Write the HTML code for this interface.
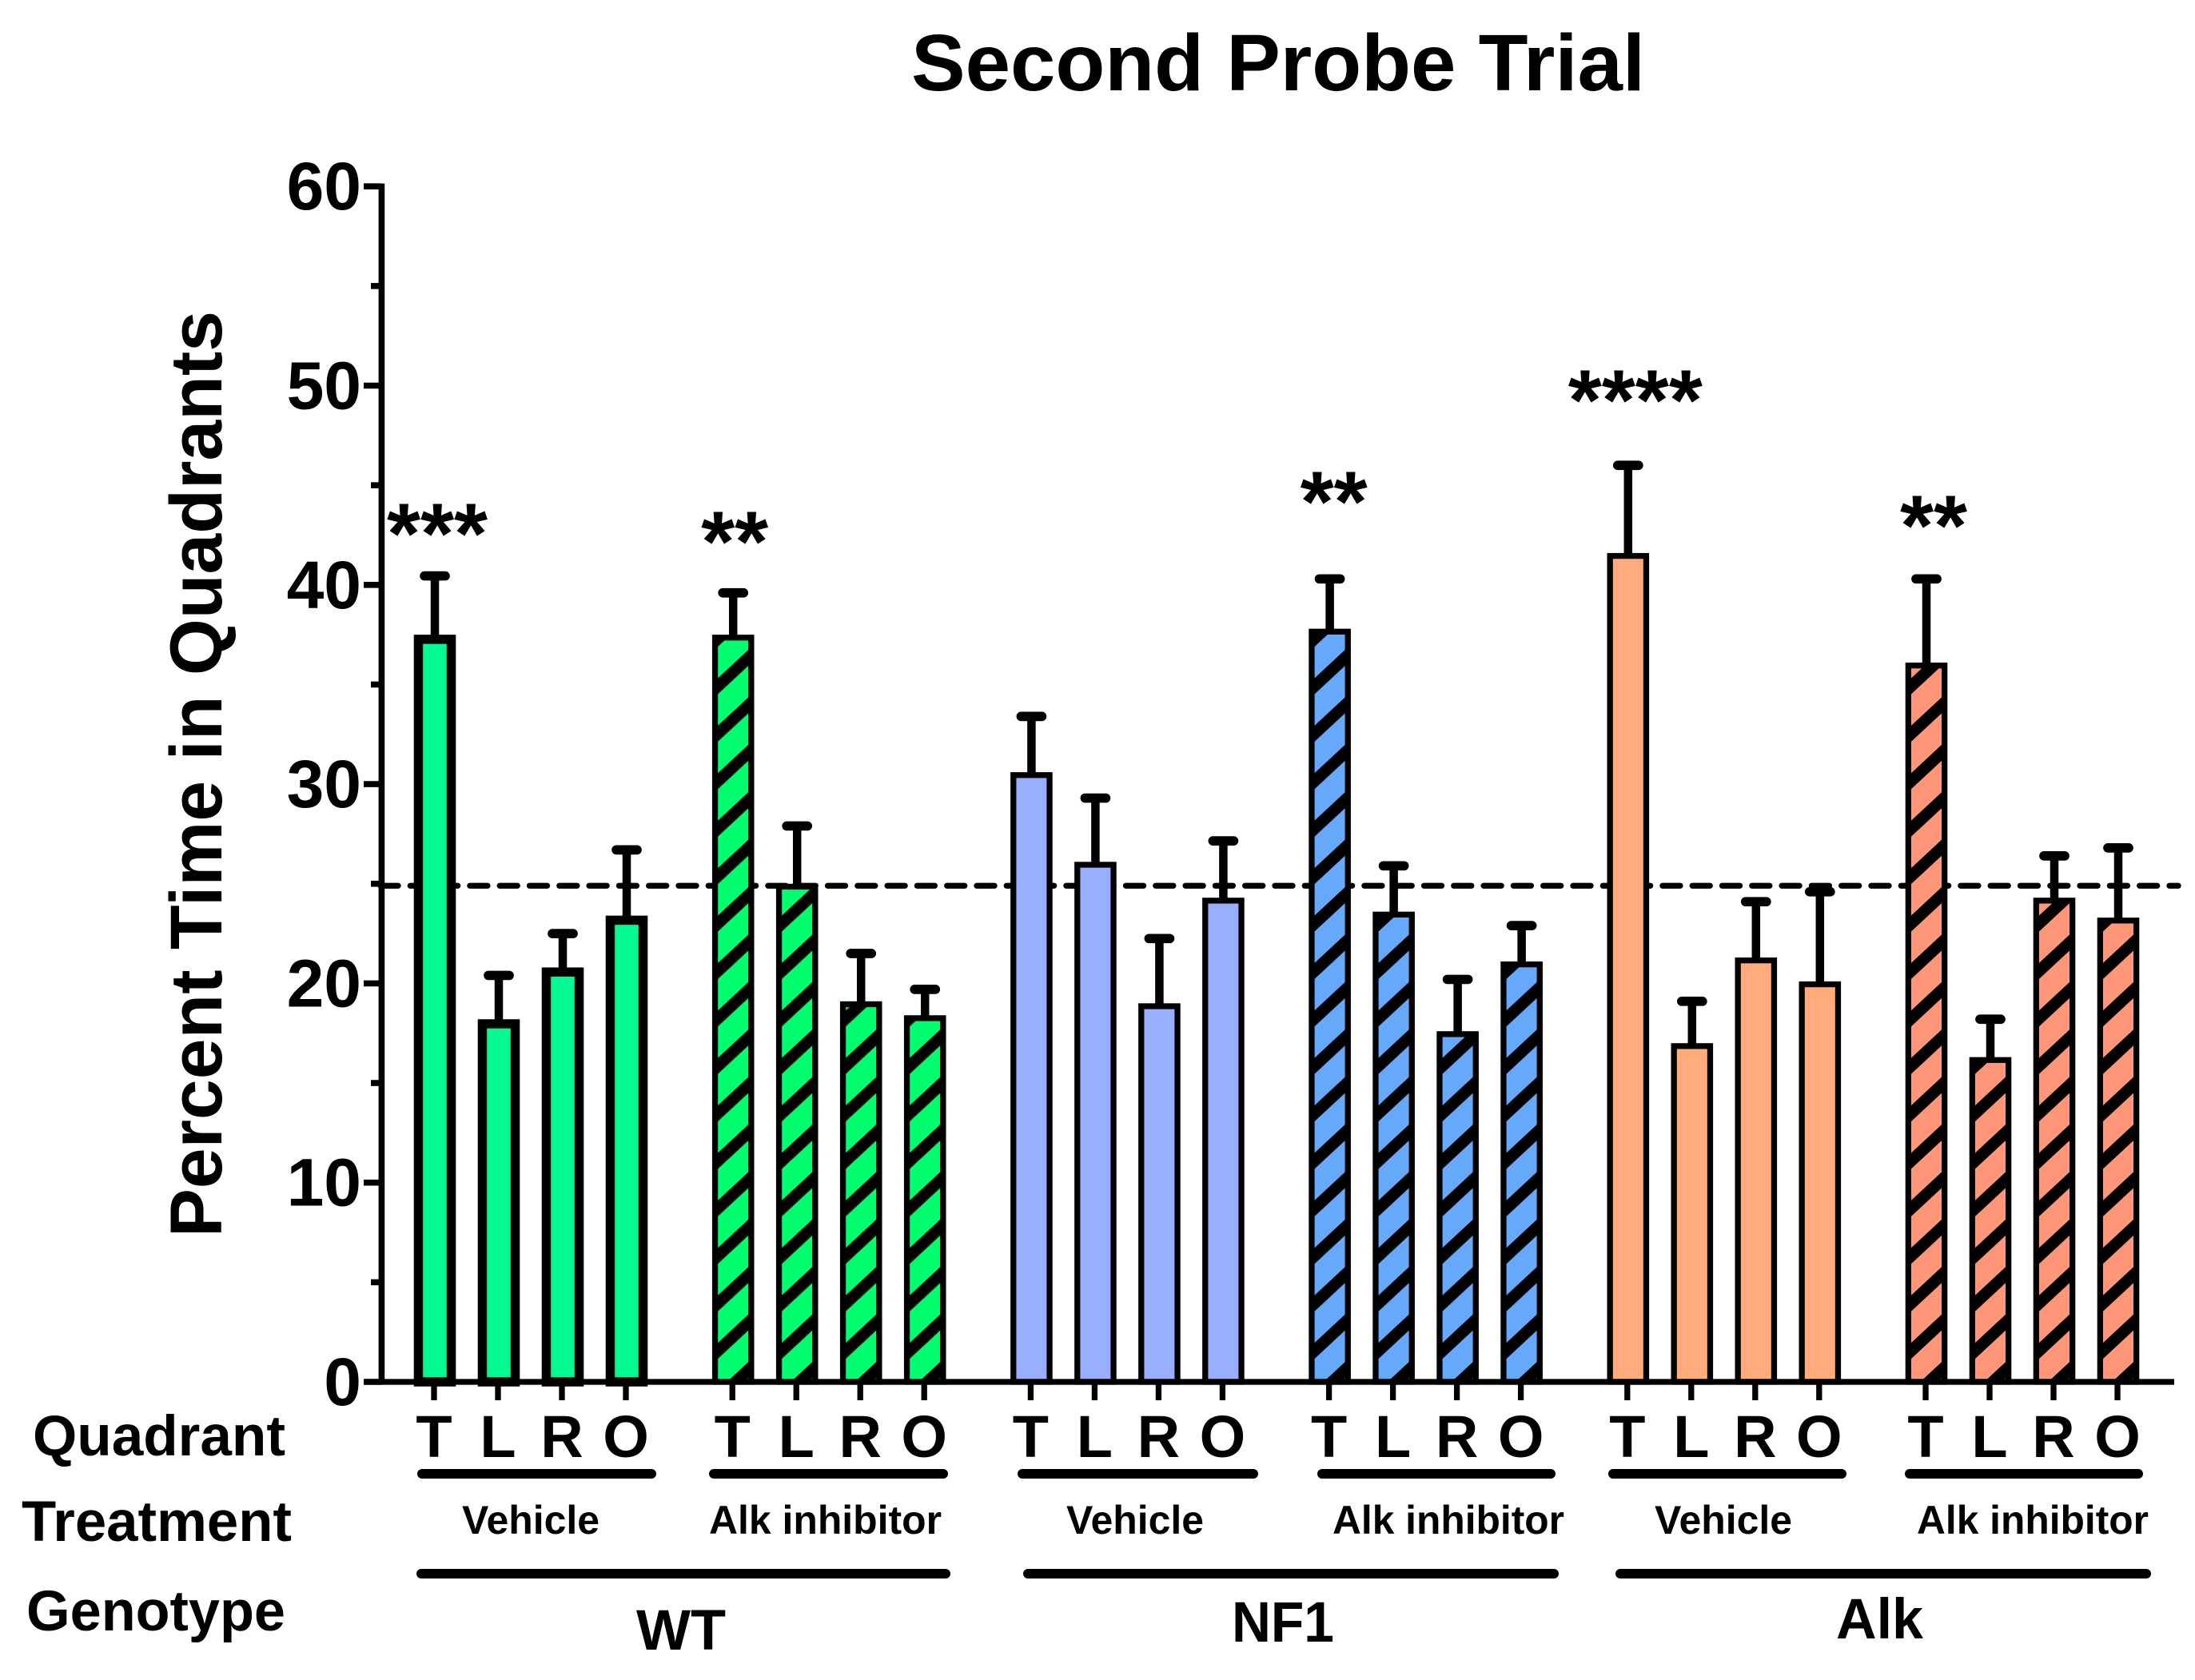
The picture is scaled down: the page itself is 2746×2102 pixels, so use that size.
<!DOCTYPE html>
<html lang="en">
<head>
<meta charset="utf-8">
<title>Second Probe Trial</title>
<style>
html,body{margin:0;padding:0;background:#fff;}
svg{display:block;}
text{font-family:"Liberation Sans",Arial,sans-serif;font-weight:bold;fill:#000;}
</style>
</head>
<body>
<svg id="chart" xmlns="http://www.w3.org/2000/svg" width="2746" height="2102" viewBox="0 0 2746 2102">
  <rect x="0" y="0" width="2746" height="2102" fill="#fff"/>
  <defs id="defs"></defs>
  <text x="1599" y="113" font-size="100" text-anchor="middle" textLength="918" lengthAdjust="spacingAndGlyphs">Second Probe Trial</text>
  <text transform="translate(277,1548) rotate(-90)" font-size="92" textLength="1159" lengthAdjust="spacingAndGlyphs">Percent Time in Quadrants</text>

  <text x="41" y="1821" font-size="71" textLength="316" lengthAdjust="spacingAndGlyphs">Quadrant</text>
  <text x="27" y="1928" font-size="71" textLength="338" lengthAdjust="spacingAndGlyphs">Treatment</text>
  <text x="33" y="2040" font-size="71" textLength="324" lengthAdjust="spacingAndGlyphs">Genotype</text>

  <g stroke="#000" stroke-width="12" stroke-linecap="round">
    <line x1="528" y1="1844" x2="815" y2="1844"/>
    <line x1="893" y1="1844" x2="1180" y2="1844"/>
    <line x1="1279" y1="1844" x2="1568" y2="1844"/>
    <line x1="1654" y1="1844" x2="1940" y2="1844"/>
    <line x1="2018" y1="1844" x2="2304" y2="1844"/>
    <line x1="2389" y1="1844" x2="2675" y2="1844"/>
  </g>
  <text x="578" y="1919" font-size="50" textLength="172" lengthAdjust="spacingAndGlyphs">Vehicle</text>
  <text x="887" y="1919" font-size="50" textLength="291" lengthAdjust="spacingAndGlyphs">Alk inhibitor</text>
  <text x="1334" y="1919" font-size="50" textLength="172" lengthAdjust="spacingAndGlyphs">Vehicle</text>
  <text x="1667" y="1919" font-size="50" textLength="290" lengthAdjust="spacingAndGlyphs">Alk inhibitor</text>
  <text x="2070" y="1919" font-size="50" textLength="172" lengthAdjust="spacingAndGlyphs">Vehicle</text>
  <text x="2398" y="1919" font-size="50" textLength="290" lengthAdjust="spacingAndGlyphs">Alk inhibitor</text>

  <g stroke="#000" stroke-width="12" stroke-linecap="round">
    <line x1="527" y1="1969" x2="1183" y2="1969"/>
    <line x1="1286" y1="1969" x2="1944" y2="1969"/>
    <line x1="2027" y1="1969" x2="2685" y2="1969"/>
  </g>
  <text x="796" y="2064" font-size="71" textLength="112" lengthAdjust="spacingAndGlyphs">WT</text>
  <text x="1541" y="2054" font-size="71" textLength="128" lengthAdjust="spacingAndGlyphs">NF1</text>
  <text x="2297" y="2050" font-size="71" textLength="109" lengthAdjust="spacingAndGlyphs">Alk</text>

  <g id="plot"></g>
</svg>
<script>
// ---- chart data ----
const quadrants = ['T','L','R','O'];
const meanValues = [
  37.5, 18.2, 20.8, 23.4,
  37.5, 25.0, 19.1, 18.4,
  30.6, 26.1, 19.0, 24.3,
  37.8, 23.6, 17.6, 21.1,
  41.6, 17.0, 21.3, 20.1,
  36.1, 16.3, 24.3, 23.3
];
const errorTops = [
  40.45, 20.4, 22.5, 26.7,
  39.6, 27.9, 21.5, 19.7,
  33.4, 29.3, 22.25, 27.15,
  40.3, 25.9, 20.2, 22.9,
  46.0, 19.1, 24.1, 24.6,
  40.3, 18.2, 26.4, 26.8
];
const groupNames = ['wt-vehicle','wt-inhibitor','nf1-vehicle','nf1-inhibitor','alk-vehicle','alk-inhibitor'];
const yTickLabels = [0,10,20,30,40,50,60];
const yMinorTicks = [5,15,25,35,45,55];
const chanceLevel = 24.9;
const sigLabels = ['***','**','**','****','**'];
const sigBars = [0,4,12,16,20];
const sigLevels = [41.1,40.7,42.7,47.8,41.5];

// ---- styling ----
const groupFills = ['#00fa92','#00ff6e','#99aeff','#66a8fa','#ffab7c','#ff9678'];
const groupStrokes = [11.5,7.3,7.3,7.3,7.3,7.3];
const sigNudge = [4,3,6,10,10];

// ---- axis functions ----
function yScale(v){ return 1729 - v * 24.93; }
function xScale(i){ return 543 + Math.floor(i/4) * 373.2 + (i%4) * 80; }

const NS = 'http://www.w3.org/2000/svg';
const plot = document.getElementById('plot');
const defs = document.getElementById('defs');
function make(tag, attrs, parent){
  const n = document.createElementNS(NS, tag);
  for (const k in attrs) n.setAttribute(k, attrs[k]);
  (parent || plot).appendChild(n);
  return n;
}

// hatch patterns for the inhibitor groups
groupNames.forEach(function(name, g){
  if (g % 2 === 0) return;
  const p = make('pattern', {id:'hatch-'+g, patternUnits:'userSpaceOnUse', width:63.9, height:59.4, patternTransform:'translate(3,0)'}, defs);
  make('rect', {x:0, y:0, width:63.9, height:59.4, fill:groupFills[g]}, p);
  make('path', {d:'M-31.95,29.7L31.95,-29.7M0,59.4L63.9,0M31.95,89.1L95.85,29.7', stroke:'#000', 'stroke-width':14.6, fill:'none'}, p);
});

// chance-level dashed line (behind the bars)
const chance = make('line', {x1:476, x2:2725, y1:yScale(chanceLevel), y2:yScale(chanceLevel), stroke:'#000', 'stroke-width':7.3, 'stroke-dasharray':'22 15.3', 'stroke-linecap':'round'});



// bars and error bars
meanValues.forEach(function(v, i){
  const g = Math.floor(i/4);
  const q = quadrants[i%4];
  const cx = xScale(i) + 1;
  const sw = groupStrokes[g];
  const base = yScale(0);
  const top = yScale(v);

  const stem = make('line', {x1:cx, x2:cx, y1:top + 4, y2:yScale(errorTops[i]), stroke:'#000', 'stroke-width':10.5});
  
  

  const cap = make('line', {x1:cx-13, x2:cx+13, y1:yScale(errorTops[i]), y2:yScale(errorTops[i]), stroke:'#000', 'stroke-width':11.7, 'stroke-linecap':'round'});
  
  

  const holder = make('g', {transform:'translate(' + cx + ',' + base + ')'});
  const fill = g % 2 ? 'url(#hatch-' + g + ')' : groupFills[g];
  const bar = make('rect', {x:-26.3 + sw/2, y:top - base + sw/2, width:52.6 - sw, height:base - top - sw/2, fill:fill, stroke:'#000', 'stroke-width':sw}, holder);
  
  

  const tick = make('line', {x1:xScale(i), x2:xScale(i), y1:base, y2:base + 23, stroke:'#000', 'stroke-width':7.3});
  
  

  const lab = make('text', {x:xScale(i), y:1823, 'font-size':74, 'text-anchor':'middle'});
  lab.textContent = q;
  
  
});

// y axis
const yAxis = make('line', {x1:477.4, x2:477.4, y1:yScale(60)-3.6, y2:yScale(0)+3.6, stroke:'#000', 'stroke-width':7.6});



const xAxis = make('line', {x1:456, x2:2720, y1:yScale(0), y2:yScale(0), stroke:'#000', 'stroke-width':7.3});



yTickLabels.forEach(function(v){
  const t = make('line', {x1:455, x2:477, y1:yScale(v), y2:yScale(v), stroke:'#000', 'stroke-width':7.6});
  
  
  const l = make('text', {x:452, y:yScale(v) + 29, 'font-size':84, 'text-anchor':'end'});
  l.textContent = v;
  
  
});
yMinorTicks.forEach(function(v){
  const t = make('line', {x1:464, x2:477, y1:yScale(v), y2:yScale(v), stroke:'#000', 'stroke-width':7.6});
  
  
});

// significance markers
sigLabels.forEach(function(s, k){
  const m = make('text', {x:xScale(sigBars[k]) + sigNudge[k], y:yScale(sigLevels[k]), 'font-size':108, 'text-anchor':'middle'});
  m.textContent = s;
  
  
});
</script>
</body>
</html>
